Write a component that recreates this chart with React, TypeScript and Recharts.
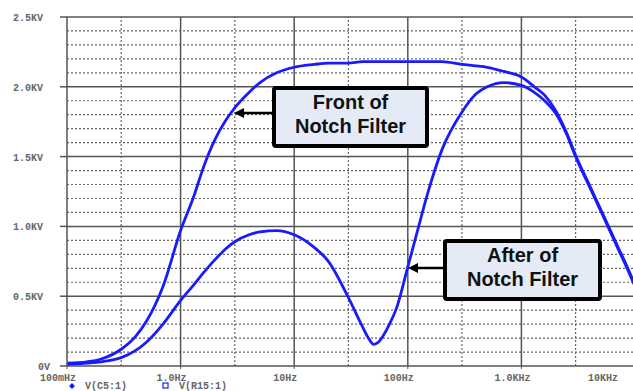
import React from 'react';
import { LineChart, Line, XAxis, YAxis, ReferenceLine } from 'recharts';

// frequency sweep (Hz) and the two probed voltages (KV)
const freqHz = [
  0.1, 0.15, 0.2, 0.3, 0.4, 0.5, 0.7, 1, 1.3, 1.6, 2, 2.5, 3, 4, 5, 7, 10, 15, 20, 30, 40, 45, 50, 55,
  60, 70, 80, 100, 120, 150, 200, 300, 400, 500, 700, 1000, 1300, 1600, 2000, 2500, 3000, 4000, 5000,
  6000, 7000, 8000, 10000,
];
const frontKV = [
  0.02, 0.03, 0.05, 0.12, 0.21, 0.32, 0.57, 0.97, 1.21, 1.43, 1.62, 1.76, 1.85, 1.96, 2.03, 2.1, 2.14,
  2.16, 2.17, 2.17, 2.18, 2.18, 2.18, 2.18, 2.18, 2.18, 2.18, 2.18, 2.18, 2.18, 2.18, 2.16, 2.15, 2.14,
  2.11, 2.07, 2.0, 1.94, 1.83, 1.67, 1.51, 1.29, 1.12, 0.98, 0.86, 0.76, 0.58,
];
const afterKV = [
  0.01, 0.02, 0.03, 0.06, 0.11, 0.17, 0.3, 0.47, 0.58, 0.67, 0.76, 0.84, 0.89, 0.94, 0.96, 0.97, 0.94,
  0.85, 0.75, 0.49, 0.28, 0.2, 0.155, 0.17, 0.21, 0.31, 0.42, 0.71, 0.95, 1.24, 1.55, 1.82, 1.95, 2.0,
  2.03, 2.01, 1.96, 1.9, 1.81, 1.66, 1.5, 1.28, 1.11, 0.97, 0.85, 0.75, 0.57,
];

const xTicks = [0.1, 1, 10, 100, 1000, 10000];
const xTickLabels = ['100mHz', '1.0Hz', '10Hz', '100Hz', '1.0KHz', '10KHz'];
const xMinor = [0.3, 3, 30, 300, 3000];
const yTicks = [0, 0.5, 1, 1.5, 2, 2.5];
const yTickLabels = ['0V', '0.5KV', '1.0KV', '1.5KV', '2.0KV', '2.5KV'];
const yMinor = [
  0.1, 0.2, 0.3, 0.4, 0.6, 0.7, 0.8, 0.9, 1.1, 1.2, 1.3, 1.4, 1.6, 1.7, 1.8, 1.9, 2.1, 2.2, 2.3, 2.4,
];
const legendNames = ['V(C5:1)', 'V(R15:1)'];

const data = freqHz.map((f, i) => ({ f, front: frontKV[i], after: afterKV[i] }));

const BLUE = '#1a1aff';
const GRID = '#555';
const mono = { fontFamily: '"Liberation Mono", "DejaVu Sans Mono", monospace', fontSize: 10, fontWeight: 700 };

const XTick = ({ x, y, payload }: any) => {
  const i = xTicks.indexOf(payload.value);
  // last label sits inside the cropped edge
  const cx = i === xTicks.length - 1 ? x - 32 : x - 9;
  return (
    <text x={cx} y={y + 10} textAnchor="middle" fill="#666" style={mono}>
      {xTickLabels[i]}
    </text>
  );
};

const YTick = ({ y, payload }: any) => {
  const i = yTicks.indexOf(payload.value);
  return (
    <text x={i === 0 ? 50 : 43} y={y + 4} textAnchor="end" fill="#666" style={mono}>
      {yTickLabels[i]}
    </text>
  );
};

const Callout = ({ x, y, w, h, lines, tipX, arrowY }: any) => {
  const bold = { fontFamily: '"Liberation Sans", Arial, sans-serif', fontSize: 20, fontWeight: 700 };
  return (
    <g>
      <line x1={x} y1={arrowY} x2={tipX + 7} y2={arrowY} stroke="#000" strokeWidth={2.5} />
      <polygon points={`${tipX},${arrowY} ${tipX + 10},${arrowY - 5} ${tipX + 10},${arrowY + 5}`} fill="#000" />
      <rect x={x + 2} y={y + 2} width={w - 4} height={h - 4} fill="#e4ebf6" stroke="#000" strokeWidth={4} rx={2} />
      <text x={x + w / 2} y={y + 23} textAnchor="middle" fill="#111" style={bold}>
        {lines[0]}
      </text>
      <text x={x + w / 2} y={y + 47} textAnchor="middle" fill="#111" style={bold}>
        {lines[1]}
      </text>
    </g>
  );
};

export default function App() {
  return (
    <div style={{ position: 'fixed', left: 0, top: 0, width: 633, height: 391, overflow: 'hidden', background: '#fff' }}>
      <LineChart width={640} height={391} data={data} margin={{ top: 17, right: 5, bottom: 0, left: 0 }}>
        <XAxis
          dataKey="f"
          type="number"
          scale="log"
          domain={[0.1, 10000]}
          ticks={xTicks}
          interval={0}
          height={25}
          axisLine={{ stroke: GRID, strokeWidth: 1.5 }}
          tickLine={{ stroke: GRID }}
          tickSize={3}
          tick={<XTick />}
        />
        <YAxis
          type="number"
          domain={[0, 2.5]}
          ticks={yTicks}
          interval={0}
          width={67}
          axisLine={{ stroke: GRID, strokeWidth: 1.5 }}
          tickLine={{ stroke: GRID, strokeWidth: 1.5 }}
          tickSize={7}
          tick={<YTick />}
        />
        {yMinor.map((v) => (
          <ReferenceLine key={'ym' + v} y={v} stroke="#666" strokeDasharray="2 2" strokeWidth={1.2} />
        ))}
        {xMinor.map((v) => (
          <ReferenceLine key={'xm' + v} x={v} stroke="#666" strokeDasharray="2 2" strokeWidth={1.2} />
        ))}
        {yTicks.slice(1).map((v) => (
          <ReferenceLine key={'yM' + v} y={v} stroke={GRID} strokeWidth={1.5} />
        ))}
        {xTicks.slice(1).map((v) => (
          <ReferenceLine key={'xM' + v} x={v} stroke={GRID} strokeWidth={1.5} />
        ))}
        <Line dataKey="front" type="monotone" stroke={BLUE} strokeWidth={2.8} dot={false} isAnimationActive={false} />
        <Line dataKey="after" type="monotone" stroke={BLUE} strokeWidth={2.8} dot={false} isAnimationActive={false} />
      </LineChart>
      <svg width={633} height={391} style={{ position: 'absolute', left: 0, top: 0, pointerEvents: 'none' }}>
        <Callout x={272} y={86} w={157} h={62} lines={['Front of', 'Notch Filter']} tipX={234} arrowY={113} />
        <Callout x={443} y={239} w={159} h={62} lines={['After of', 'Notch Filter']} tipX={408} arrowY={268} />
        <polygon points="72,383 75,386 72,389 69,386" fill={BLUE} />
        <text x={85} y={389} fill="#666" style={mono}>
          {legendNames[0]}
        </text>
        <rect x={163} y={383} width={5} height={5} fill="none" stroke={BLUE} strokeWidth={1.2} />
        <text x={179} y={389} fill="#666" style={mono}>
          {legendNames[1]}
        </text>
      </svg>
    </div>
  );
}
